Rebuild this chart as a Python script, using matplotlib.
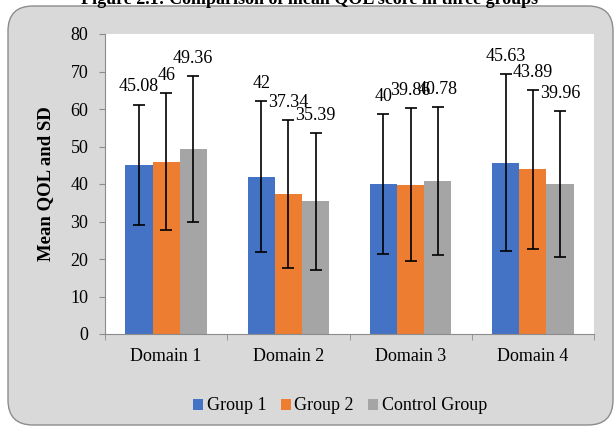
import numpy as np
import matplotlib
matplotlib.use("Agg")
import matplotlib.pyplot as plt
from matplotlib.patches import FancyBboxPatch

plt.rcParams['font.family'] = ['Liberation Serif', 'DejaVu Serif']

domains = ["Domain 1", "Domain 2", "Domain 3", "Domain 4"]
groups = ["Group 1", "Group 2", "Control Group"]
means = [
    [45.08, 42, 40, 45.63],
    [46, 37.34, 39.86, 43.89],
    [49.36, 35.39, 40.78, 39.96],
]
sds = [
    [16.1, 20.1, 18.55, 23.6],
    [18.2, 19.75, 20.3, 21.15],
    [19.5, 18.2, 19.75, 19.4],
]
labels = [
    ["45.08", "42", "40", "45.63"],
    ["46", "37.34", "39.86", "43.89"],
    ["49.36", "35.39", "40.78", "39.96"],
]
colors = ["#4472C4", "#ED7D31", "#A5A5A5"]

fig = plt.figure(figsize=(6.15, 4.26), dpi=100)
fig.patch.set_facecolor("white")

# rounded grey chart area
box = FancyBboxPatch((0.08, 0.01), 6.05, 4.19,
                     boxstyle="round,pad=0,rounding_size=0.25",
                     transform=fig.dpi_scale_trans,
                     facecolor="#d9d9d9", edgecolor="#8c8c8c", lw=1, zorder=-10)
fig.add_artist(box)

fig.text(0.504, 1 - 4 / 426, "Figure 2.1: Comparison of mean QOL score in three groups",
         ha="center", va="baseline", fontsize=13, fontweight="bold")

ax = fig.add_axes([105 / 615, 1 - 334 / 426, 489 / 615, 300 / 426])
ax.set_facecolor("white")

x = np.arange(len(domains))
w = 0.222
bars = []
for i in range(len(groups)):
    xi = x + (i - 1) * w
    b = ax.bar(xi, means[i], w, color=colors[i], label=groups[i], zorder=2)
    bars.append(b)
    ax.errorbar(xi, means[i], yerr=sds[i], fmt="none", ecolor="black",
                elinewidth=1.2, capsize=4.5, capthick=1.2, zorder=3)
    for j in range(len(domains)):
        ax.annotate(labels[i][j], (xi[j], means[i][j] + sds[i][j]),
                    xytext=(0, 9.5), textcoords="offset points",
                    ha="center", va="baseline", fontsize=13, zorder=4)

ax.set_xlim(-0.5, 3.5)
ax.set_ylim(0, 80)
ax.set_yticks(range(0, 81, 10))
ax.set_xticks(x)
ax.set_xticklabels(domains)
ax.set_xticks(np.arange(-0.5, 4, 1), minor=True)
ax.tick_params(axis="x", which="major", length=0, pad=10, labelsize=13)
ax.tick_params(axis="x", which="minor", length=4, color="#8c8c8c", direction="out")
ax.tick_params(axis="y", length=4, color="#8c8c8c", pad=8, labelsize=13)

for s in ["top", "right"]:
    ax.spines[s].set_visible(False)
for s in ["left", "bottom"]:
    ax.spines[s].set_color("#8c8c8c")

ax.set_ylabel("Mean QOL and SD", fontsize=13.5, fontweight="bold")
ax.yaxis.set_label_coords(-0.104, 0.50)

fig.legend(handles=bars, labels=groups, loc="center", bbox_to_anchor=(0.553, 0.047),
           ncol=3, frameon=False, fontsize=13, handlelength=0.55, handleheight=0.55,
           handletextpad=0.2, columnspacing=0.8)

fig.savefig("out.png", dpi=100)
